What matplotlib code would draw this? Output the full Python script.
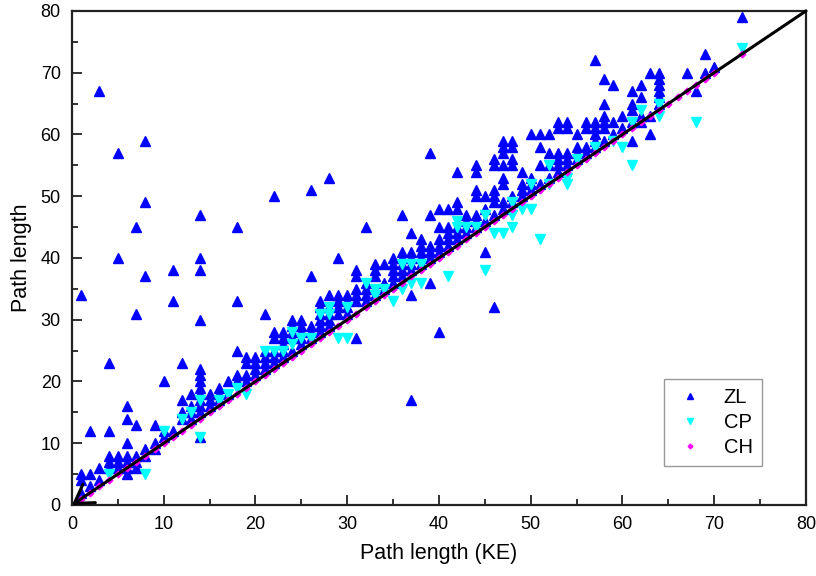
import matplotlib
matplotlib.use("Agg")
import matplotlib.pyplot as plt
from matplotlib.ticker import MultipleLocator

# ZL path lengths, grouped by KE path length (x): list of y values
zl_columns = [
    (1, [2, 4, 5, 34]),
    (2, [3, 5, 12]),
    (3, [4, 6, 67]),
    (4, [6, 7, 8, 12, 23]),
    (5, [6, 7, 8, 40, 57]),
    (6, [5, 6, 7, 8, 10, 14, 16]),
    (7, [6, 7, 8, 13, 31, 45]),
    (8, [8, 9, 37, 49, 59]),
    (9, [9, 10, 13]),
    (10, [11, 12, 20]),
    (11, [12, 33, 38]),
    (12, [14, 15, 17, 23]),
    (13, [14, 15, 16, 18]),
    (14, [11, 15, 16, 17, 18, 19, 20, 21, 22, 30, 38, 40, 47]),
    (15, [16, 17, 18]),
    (16, [17, 18, 19]),
    (17, [18, 20]),
    (18, [20, 21, 25, 33, 45]),
    (19, [20, 21, 23, 24]),
    (20, [21, 22, 23, 24]),
    (21, [22, 23, 24, 25, 31]),
    (22, [23, 24, 25, 27, 28, 50]),
    (23, [24, 25, 26, 27, 28]),
    (24, [25, 27, 28, 29, 30]),
    (25, [26, 27, 28, 29, 30]),
    (26, [27, 28, 29, 37, 51]),
    (27, [28, 29, 30, 31, 32, 33]),
    (28, [29, 30, 31, 32, 34, 53]),
    (29, [31, 32, 33, 34, 40]),
    (30, [31, 32, 33, 34]),
    (31, [27, 33, 34, 35, 37, 38]),
    (32, [33, 34, 35, 36, 45]),
    (33, [34, 35, 37, 38, 39]),
    (34, [35, 36, 39]),
    (35, [36, 37, 38, 39, 40]),
    (36, [37, 38, 39, 40, 41, 47]),
    (37, [17, 34, 38, 39, 40, 41, 44]),
    (38, [39, 40, 41, 42, 43]),
    (39, [36, 40, 41, 42, 47, 57]),
    (40, [28, 41, 42, 43, 45, 48]),
    (41, [42, 43, 44, 45, 48]),
    (42, [43, 44, 45, 48, 49, 54]),
    (43, [44, 45, 46, 47]),
    (44, [45, 46, 47, 50, 51, 54, 55]),
    (45, [41, 46, 48, 50]),
    (46, [32, 47, 49, 50, 51, 55, 56]),
    (47, [48, 49, 52, 53, 55, 57, 58, 59]),
    (48, [49, 50, 55, 56, 58, 59]),
    (49, [50, 51, 52, 54]),
    (50, [51, 52, 53, 60]),
    (51, [52, 55, 58, 60]),
    (52, [53, 55, 57, 60]),
    (53, [54, 55, 56, 57, 61, 62]),
    (54, [55, 56, 57, 61, 62]),
    (55, [56, 57, 58, 60]),
    (56, [57, 58, 61, 62]),
    (57, [58, 59, 60, 61, 62, 72]),
    (58, [59, 61, 62, 63, 65, 69]),
    (59, [60, 62, 68]),
    (60, [61, 63]),
    (61, [59, 62, 64, 65, 67]),
    (62, [62, 63, 66, 68]),
    (63, [60, 63, 70]),
    (64, [65, 66, 67, 68, 69, 70]),
    (67, [70]),
    (68, [67]),
    (69, [70, 73]),
    (70, [71]),
    (73, [79]),
]

cp_x = [4, 8, 10, 12, 13, 14, 14, 16, 17, 18, 19, 21, 22, 23, 24, 24, 25, 26,
        27, 28, 28, 29, 30, 30, 32, 33, 33, 34, 35, 36, 36, 37, 37, 38, 38, 41,
        42, 42, 43, 44, 45, 45, 46, 47, 48, 48, 48, 49, 50, 50, 51, 52, 52, 54,
        54, 55, 57, 59, 60, 61, 61, 62, 64, 64, 68, 73]
cp_y = [5, 5, 12, 14, 15, 11, 17, 17, 18, 19, 18, 25, 25, 25, 28, 26, 27, 27,
        31, 31, 32, 27, 27, 32, 36, 35, 34, 35, 33, 39, 35, 39, 36, 36, 39, 37,
        46, 45, 45, 45, 47, 38, 44, 44, 49, 47, 45, 48, 52, 48, 43, 55, 52, 53,
        52, 56, 58, 59, 58, 62, 55, 64, 65, 63, 62, 74]

ch_x = list(range(1, 71)) + [73]
ch_y = list(ch_x)

zl_x = [x for x, ys in zl_columns for _ in ys]
zl_y = [y for _, ys in zl_columns for y in ys]

plt.rcParams["font.family"] = ["Liberation Sans", "DejaVu Sans"]

fig = plt.figure(figsize=(8.16, 5.76), dpi=100)
ax = fig.add_axes([0.0882, 0.1233, 0.8995, 0.8577])

ax.plot(zl_x, zl_y, linestyle="none", marker="^", markersize=6.5,
        color="#0000ff", label="ZL", zorder=3)
ax.plot(cp_x, cp_y, linestyle="none", marker="v", markersize=6.5,
        color="#00ffff", label="CP", zorder=4)
ax.plot(ch_x, ch_y, linestyle="none", marker="D", markersize=3.4,
        color="#ff00ff", label="CH", zorder=5)

# diagonal reference line with open arrowhead at the origin
ax.annotate("", xy=(0, 0), xytext=(80, 80),
            arrowprops=dict(arrowstyle="->,head_length=0.4,head_width=0.25",
                            color="black", lw=2.2, mutation_scale=32,
                            shrinkA=0, shrinkB=0),
            zorder=6, annotation_clip=False)

ax.set_xlim(0, 80)
ax.set_ylim(0, 80)
ax.xaxis.set_major_locator(MultipleLocator(10))
ax.xaxis.set_minor_locator(MultipleLocator(5))
ax.yaxis.set_major_locator(MultipleLocator(10))
ax.yaxis.set_minor_locator(MultipleLocator(5))
ax.tick_params(which="both", direction="in", top=False, right=False,
               width=1.3, color="#222222", labelsize=13, pad=8)
ax.tick_params(which="major", length=7)
ax.tick_params(which="minor", length=4)
for s in ax.spines.values():
    s.set_linewidth(1.6)
    s.set_color("#222222")

ax.set_xlabel("Path length (KE)", fontsize=15.5, labelpad=7)
ax.set_ylabel("Path length", fontsize=15.5, labelpad=6)

leg = ax.legend(loc="lower right", bbox_to_anchor=(0.94, 0.079), fontsize=14.5,
                markerscale=0.7, fancybox=False, edgecolor="#808080",
                handlelength=1.6, handletextpad=0.9, borderpad=0.45,
                labelspacing=0.3, borderaxespad=0)
leg.get_frame().set_linewidth(1.0)

fig.savefig("out.png", dpi=100)
